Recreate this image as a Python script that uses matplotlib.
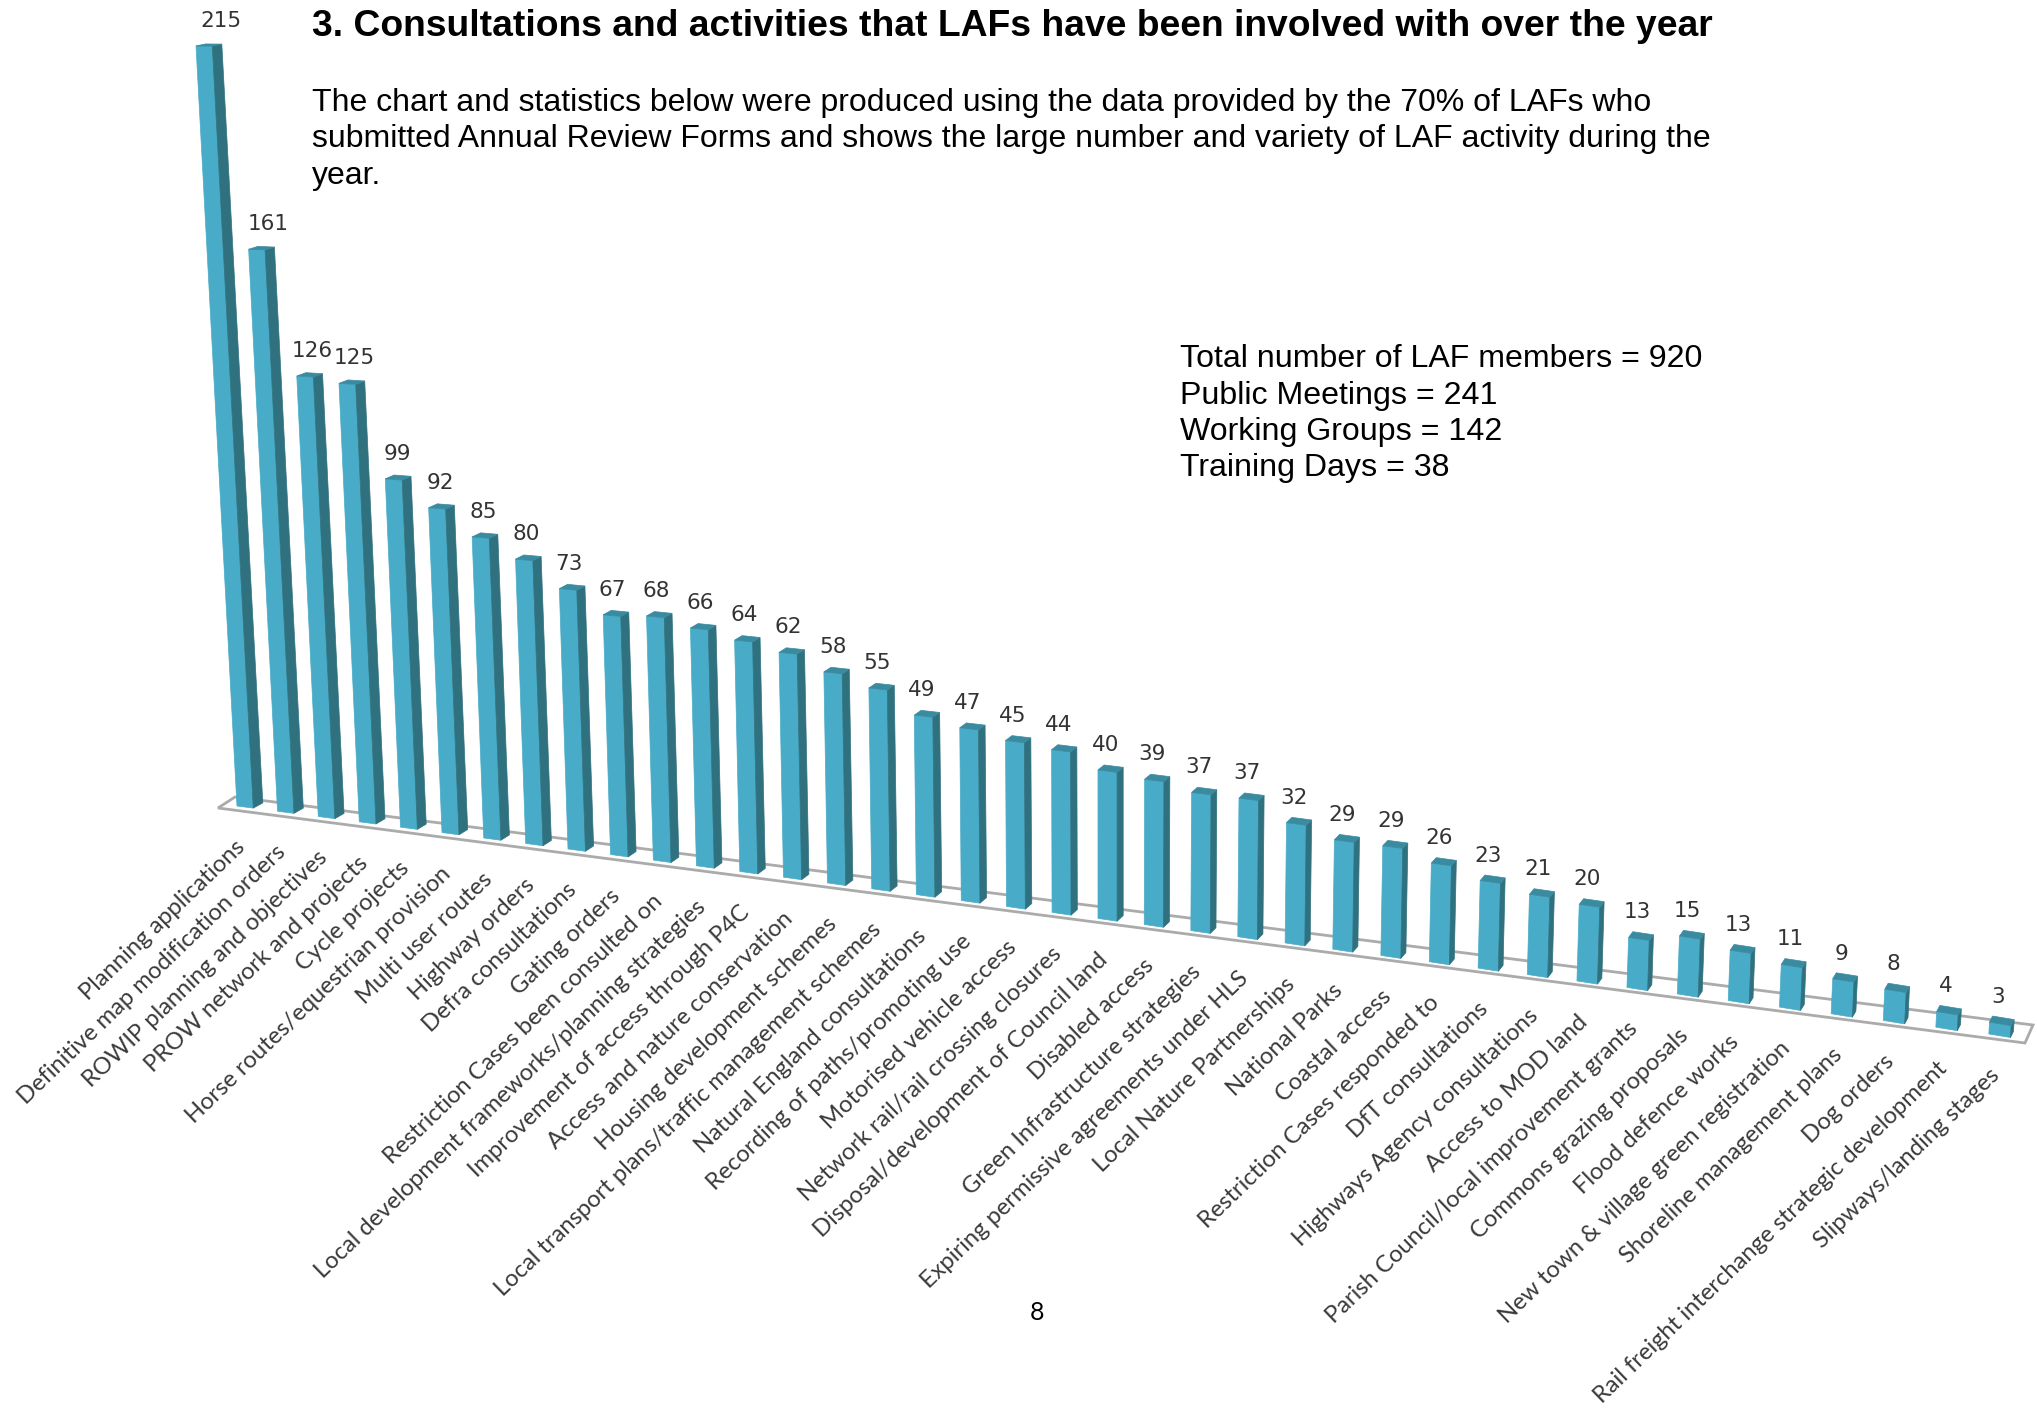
import numpy as np
import matplotlib
matplotlib.use('Agg')
import matplotlib.pyplot as plt

categories = ['Planning applications', 'Definitive map modification orders', 'ROWIP planning and objectives',
              'PROW network and projects', 'Cycle projects', 'Horse routes/equestrian provision',
              'Multi user routes', 'Highway orders', 'Defra consultations', 'Gating orders',
              'Restriction Cases been consulted on', 'Local development frameworks/planning strategies',
              'Improvement of access through P4C', 'Access and nature conservation', 'Housing development schemes',
              'Local transport plans/traffic management schemes', 'Natural England consultations',
              'Recording of paths/promoting use', 'Motorised vehicle access', 'Network rail/rail crossing closures',
              'Disposal/development of Council land', 'Disabled access', 'Green Infrastructure strategies',
              'Expiring permissive agreements under HLS', 'Local Nature Partnerships', 'National Parks',
              'Coastal access', 'Restriction Cases responded to', 'DfT consultations',
              'Highways Agency consultations', 'Access to MOD land', 'Parish Council/local improvement grants',
              'Commons grazing proposals', 'Flood defence works', 'New town & village green registration',
              'Shoreline management plans', 'Dog orders', 'Rail freight interchange strategic development',
              'Slipways/landing stages']
values = [215, 161, 126, 125, 99, 92, 85, 80, 73, 67, 68, 66, 64, 62, 58, 55, 49, 47, 45, 44,
          40, 39, 37, 37, 32, 29, 29, 26, 23, 21, 20, 13, 15, 13, 11, 9, 8, 4, 3]

title = '3. Consultations and activities that LAFs have been involved with over the year'
intro = ['The chart and statistics below were produced using the data provided by the 70% of LAFs who',
         'submitted Annual Review Forms and shows the large number and variety of LAF activity during the',
         'year.']
stats = ['Total number of LAF members = 920', 'Public Meetings = 241', 'Working Groups = 142', 'Training Days = 38']

FRONT = '#48abc7'
SIDE = '#30717f'
TOP = '#3a8aa0'


# perspective of the chart: bars get wider to the right and lean away from a point far below
def corners(i, v):
    x0 = 237 + 40.42 * i + 0.1115 * i ** 2 + 0.001 * i ** 3
    y0 = 806 + 5.2 * i + 0.021 * i ** 2
    h = v * (3.47 + 0.012 * i) + 14 * (v / 215) ** 8
    w = 16.3 + 0.14 * i
    lean = (x0 - 1100) / 16000
    x1 = x0 + lean * h
    y1 = y0 - h
    return x0, y0, x1, y1, w


def depth(i, y):
    return 9.5 - 0.17 * i, -1.8 - 0.0042 * y


def slope(y):
    return 0.00016 * y


fig = plt.figure(figsize=(20.37, 14.21), dpi=100)
ax = fig.add_axes([0, 0, 1, 1])
ax.set_xlim(0, 2037)
ax.set_ylim(1421, 0)
ax.axis('off')

# floor
ax.fill([218, 235, 2033, 2025], [808, 797, 1025, 1043], facecolor='white', edgecolor='#ababab', linewidth=2, zorder=1)

for i, v in enumerate(values):
    x0, y0, x1, y1, w = corners(i, v)
    fr0 = (x0 + w, y0 + w * slope(y0))
    fr1 = (x1 + w, y1 + w * slope(y1))
    d0 = depth(i, y0)
    d1 = depth(i, y1)
    ax.fill([x0, fr0[0], fr1[0], x1], [y0, fr0[1], fr1[1], y1], color=FRONT, linewidth=0.5, zorder=3)
    ax.fill([fr0[0], fr0[0] + d0[0], fr1[0] + d1[0], fr1[0]],
            [fr0[1], fr0[1] + d0[1], fr1[1] + d1[1], fr1[1]], color=SIDE, linewidth=0.5, zorder=3)
    ax.fill([x1, fr1[0], fr1[0] + d1[0], x1 + d1[0]],
            [y1, fr1[1], fr1[1] + d1[1], y1 + d1[1]], color=TOP, linewidth=0.5, zorder=3)

    label_dx = max(0.11 * (v - 62), -2)
    ax.text(x1 + w / 2 + label_dx, y1 - 25, str(v), ha='center', va='center', fontsize=15.5,
            family='DejaVu Sans', color='#333333')
    ax.text(x0 + w / 2 - 3, y0 + 38, categories[i], rotation=44, rotation_mode='anchor', ha='right', va='center',
            fontsize=17.1, family='Lato', color='#3a3a3a')

ax.text(312, 27, title, fontsize=26.85, fontweight='bold', family='Liberation Sans', va='center', color='black')
for line, y in zip(intro, [103, 139, 176]):
    ax.text(312, y, line, fontsize=23.03, family='Liberation Sans', va='center', color='black')
for line, y in zip(stats, [359, 396, 432, 468]):
    ax.text(1180, y, line, fontsize=23.1, family='Liberation Sans', va='center', color='black')
ax.text(1037, 1313, '8', fontsize=18, family='Lato', ha='center', va='center', color='black')

plt.savefig('out.png', dpi=100)
